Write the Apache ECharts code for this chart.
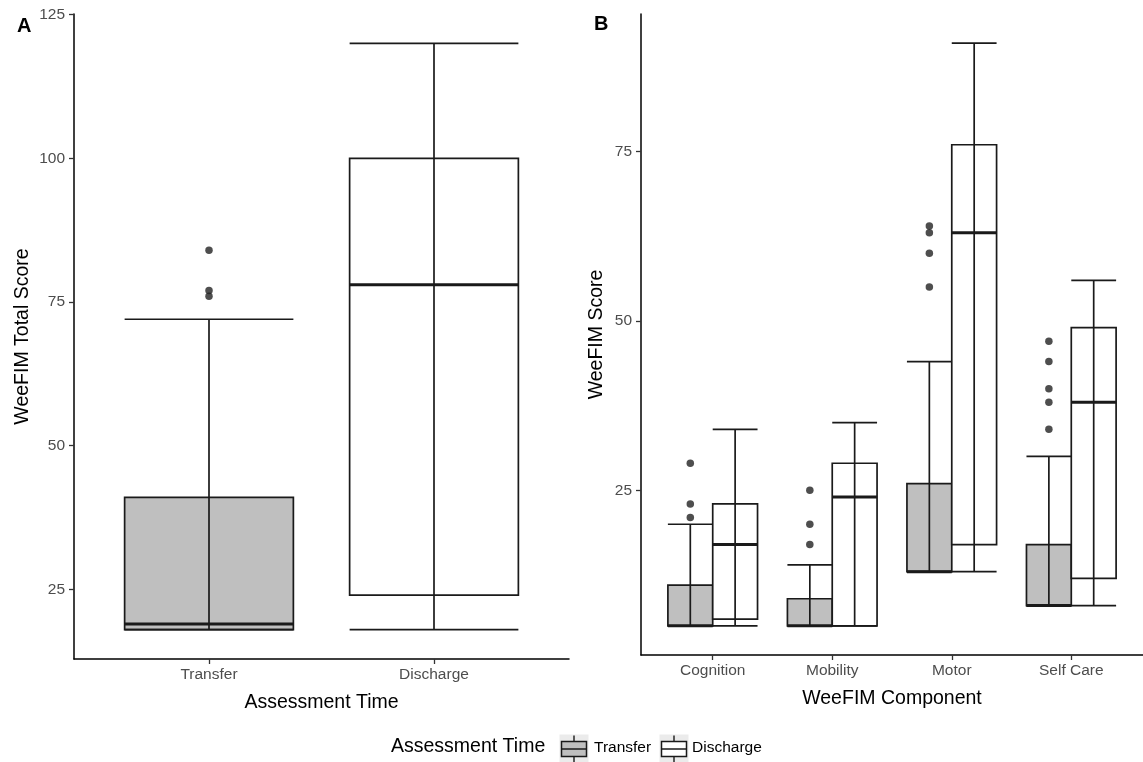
<!DOCTYPE html>
<html>
<head>
<meta charset="utf-8">
<script src="https://cdn.jsdelivr.net/npm/echarts@6/dist/echarts.min.js"></script>
<style>
html,body{margin:0;padding:0;background:#fff;}
#chart{width:1143px;height:762px;}
</style>
</head>
<body>
<div id="chart"></div>
<script>
// ---- Data ----
const catsA = ['Transfer', 'Discharge'];
// [min, Q1, median, Q3, max]
const transferA = [18, 18, 19, 41, 72];
const dischargeA = [18, 24, 78, 100, 120];
const transferAOut = [84, 77, 76];
const dischargeAOut = [];

const catsB = ['Cognition', 'Mobility', 'Motor', 'Self Care'];
const transferB = [
  [5, 5, 5, 11, 20],
  [5, 5, 5, 9, 14],
  [13, 13, 13, 26, 44],
  [8, 8, 8, 17, 30]
];
const dischargeB = [
  [5, 6, 17, 23, 34],
  [5, 5, 24, 29, 35],
  [13, 17, 63, 76, 91],
  [8, 12, 38, 49, 56]
];
const transferBOut = [
  [29, 23, 21],
  [25, 20, 17],
  [64, 63, 60, 55],
  [47, 44, 40, 38, 34]
];
const dischargeBOut = [[], [], [], []];

const yTicksA = [25, 50, 75, 100, 125];
const yTicksB = [25, 50, 75];

// ---- Styles ----
const FONT = 'Liberation Sans, Arial, sans-serif';
const INK = '#1a1a1a';
const GREY_FILL = '#bfbfbf';

function makeRender(boxW, fill) {
  return function (params, api) {
    const xc = api.value(0);
    const pMin = api.coord([xc, api.value(1)]);
    const pQ1 = api.coord([xc, api.value(2)]);
    const pMed = api.coord([xc, api.value(3)]);
    const pQ3 = api.coord([xc, api.value(4)]);
    const pMax = api.coord([xc, api.value(5)]);
    const half = api.size([boxW, 0])[0] / 2;
    const cx = pMin[0];
    return {
      type: 'group',
      children: [
        { type: 'rect', shape: { x: cx - half, y: pQ3[1], width: half * 2, height: pQ1[1] - pQ3[1] },
          style: { fill: fill, stroke: INK, lineWidth: 1.7 } },
        { type: 'line', shape: { x1: cx, y1: pMax[1], x2: cx, y2: pMin[1] },
          style: { stroke: INK, lineWidth: 1.7 } },
        { type: 'line', shape: { x1: cx - half, y1: pMax[1], x2: cx + half, y2: pMax[1] },
          style: { stroke: INK, lineWidth: 1.7 } },
        { type: 'line', shape: { x1: cx - half, y1: pMin[1], x2: cx + half, y2: pMin[1] },
          style: { stroke: INK, lineWidth: 1.7 } },
        { type: 'line', shape: { x1: cx - half, y1: pMed[1], x2: cx + half, y2: pMed[1] },
          style: { stroke: INK, lineWidth: 3 } }
      ]
    };
  };
}

function boxData(stats, xs) {
  return stats.map((s, i) => [xs[i]].concat(s));
}
function outData(outs, xs) {
  const res = [];
  outs.forEach((arr, i) => arr.forEach(v => res.push([xs[i], v])));
  return res;
}

const WA = 0.75;        // panel A box width (category units)
const WB = 0.375;       // panel B box width (dodged)
const xsA1 = [1];
const xsA2 = [2];
const xsBT = catsB.map((c, i) => i + 1 - WB / 2);
const xsBD = catsB.map((c, i) => i + 1 + WB / 2);

function xAxisCfg(gridIndex, cats, max, name) {
  const vals = cats.map((c, i) => i + 1);
  return {
    gridIndex: gridIndex, type: 'value', min: 0.4, max: max,
    axisLine: { onZero: false, lineStyle: { color: '#000', width: 1.5 } },
    axisTick: { customValues: vals, length: 5, lineStyle: { color: '#333', width: 1.3 } },
    axisLabel: { customValues: vals, formatter: v => cats[Math.round(v) - 1], color: '#4d4d4d',
      fontSize: 15.5, fontFamily: FONT, margin: 8 },
    splitLine: { show: false },
    name: name, nameLocation: 'middle', nameGap: 34,
    nameTextStyle: { color: '#000', fontSize: 19.5, fontFamily: FONT }
  };
}
function yAxisCfg(gridIndex, min, max, ticks, name, gap) {
  return {
    gridIndex: gridIndex, type: 'value', min: min, max: max,
    axisLine: { show: true, onZero: false, lineStyle: { color: '#000', width: 1.5 } },
    axisTick: { show: true, customValues: ticks, length: 5, lineStyle: { color: '#333', width: 1.3 } },
    axisLabel: { customValues: ticks, color: '#4d4d4d', fontSize: 15.5, fontFamily: FONT, margin: 9 },
    splitLine: { show: false },
    name: name, nameLocation: 'middle', nameGap: gap,
    nameTextStyle: { color: '#000', fontSize: 19.5, fontFamily: FONT }
  };
}

function legendKey(x, y, fill) {
  return [
    { type: 'rect', shape: { x: x, y: y, width: 29, height: 29 }, style: { fill: '#ebebeb' } },
    { type: 'line', shape: { x1: x + 14.5, y1: y + 1, x2: x + 14.5, y2: y + 28 }, style: { stroke: INK, lineWidth: 1.4 } },
    { type: 'rect', shape: { x: x + 2, y: y + 7, width: 25, height: 15 }, style: { fill: fill, stroke: INK, lineWidth: 1.5 } },
    { type: 'line', shape: { x1: x + 2, y1: y + 14.5, x2: x + 27, y2: y + 14.5 }, style: { stroke: INK, lineWidth: 1.5 } }
  ];
}

const option = {
  backgroundColor: '#ffffff',
  animation: false,
  title: [
    { text: 'A', left: 12, top: 11, textStyle: { fontSize: 20, fontWeight: 'bold', color: '#000', fontFamily: FONT } },
    { text: 'B', left: 589, top: 9, textStyle: { fontSize: 20, fontWeight: 'bold', color: '#000', fontFamily: FONT } }
  ],
  grid: [
    { left: 74, top: 14, width: 495, height: 645 },
    { left: 641, top: 14, width: 504, height: 641 }
  ],
  xAxis: [
    xAxisCfg(0, catsA, 2.6, 'Assessment Time'),
    xAxisCfg(1, catsB, 4.6, 'WeeFIM Component')
  ],
  yAxis: [
    yAxisCfg(0, 12.9, 125.1, yTicksA, 'WeeFIM Total Score', 41),
    yAxisCfg(1, 0.7, 95.3, yTicksB, 'WeeFIM Score', 34)
  ],
  series: [
    { name: 'Transfer', type: 'custom', xAxisIndex: 0, yAxisIndex: 0, clip: false,
      encode: { x: 0, y: [1, 2, 3, 4, 5] },
      renderItem: makeRender(WA, GREY_FILL), data: boxData([transferA], xsA1) },
    { name: 'Discharge', type: 'custom', xAxisIndex: 0, yAxisIndex: 0, clip: false,
      encode: { x: 0, y: [1, 2, 3, 4, 5] },
      renderItem: makeRender(WA, '#ffffff'), data: boxData([dischargeA], xsA2) },
    { type: 'scatter', xAxisIndex: 0, yAxisIndex: 0, symbolSize: 7.5, itemStyle: { color: '#222' },
      data: outData([transferAOut], xsA1).concat(outData([dischargeAOut], xsA2)) },
    { name: 'Transfer', type: 'custom', xAxisIndex: 1, yAxisIndex: 1, clip: false,
      encode: { x: 0, y: [1, 2, 3, 4, 5] },
      renderItem: makeRender(WB, GREY_FILL), data: boxData(transferB, xsBT) },
    { name: 'Discharge', type: 'custom', xAxisIndex: 1, yAxisIndex: 1, clip: false,
      encode: { x: 0, y: [1, 2, 3, 4, 5] },
      renderItem: makeRender(WB, '#ffffff'), data: boxData(dischargeB, xsBD) },
    { type: 'scatter', xAxisIndex: 1, yAxisIndex: 1, symbolSize: 7.5, itemStyle: { color: '#222' },
      data: outData(transferBOut, xsBT).concat(outData(dischargeBOut, xsBD)) }
  ],
  graphic: [
    { type: 'text', left: 391, top: 737, style: { text: 'Assessment Time', fontSize: 19.5, fontFamily: FONT, fill: '#000' } },
    { type: 'group', left: 559, top: 733, children: legendKey(0, 0, GREY_FILL) },
    { type: 'text', left: 594, top: 740, style: { text: 'Transfer', fontSize: 15.5, fontFamily: FONT, fill: '#000' } },
    { type: 'group', left: 659, top: 733, children: legendKey(0, 0, '#ffffff') },
    { type: 'text', left: 692, top: 740, style: { text: 'Discharge', fontSize: 15.5, fontFamily: FONT, fill: '#000' } }
  ]
};

const chart = echarts.init(document.getElementById('chart'));
chart.setOption(option);
</script>
</body>
</html>
